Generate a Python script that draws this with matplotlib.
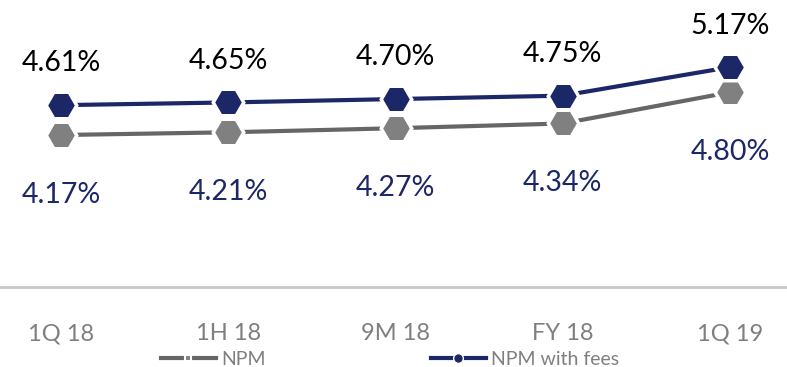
import matplotlib.pyplot as plt
from matplotlib.lines import Line2D

periods = ["1Q 18", "1H 18", "9M 18", "FY 18", "1Q 19"]
npm = [4.17, 4.21, 4.27, 4.34, 4.80]
npm_fees = [4.61, 4.65, 4.70, 4.75, 5.17]

NAVY = "#1c2768"
GREY_LINE = "#666666"
GREY_MARK = "#808080"

plt.rcParams['font.family'] = ['Lato', 'DejaVu Sans']

fig = plt.figure(figsize=(7.87, 3.67), dpi=100)
ax = fig.add_axes([0, 0.218, 1, 0.782])

x = list(range(len(periods)))
ax.plot(x, npm, color=GREY_LINE, lw=3, marker='H', ms=22,
        mfc=GREY_MARK, mec='white', mew=2.5, zorder=3)
ax.plot(x, npm_fees, color=NAVY, lw=3, marker='H', ms=22,
        mfc=NAVY, mec='white', mew=2.5, zorder=4)

for xi, v in zip(x, npm_fees):
    ax.annotate(f"{v:.2f}%", (xi, v), xytext=(0, 30), textcoords='offset points',
                ha='center', va='center', fontsize=20.5, color='black')
for xi, v in zip(x, npm):
    ax.annotate(f"{v:.2f}%", (xi, v), xytext=(0, -43), textcoords='offset points',
                ha='center', va='center', fontsize=20.5, color=NAVY)

ax.set_xlim(-0.365, 4.341)
ax.set_ylim(1.93, 6.16)
for s in ['top', 'left', 'right']:
    ax.spines[s].set_visible(False)
ax.spines['bottom'].set_color('#c8c8c8')
ax.spines['bottom'].set_linewidth(2)
ax.set_yticks([])
ax.set_xticks(x)
ax.set_xticklabels(periods, fontsize=17, color='#7f7f7f')
ax.tick_params(axis='x', length=0, pad=26)

handles = [
    Line2D([], [], color=GREY_LINE, lw=3, marker='s', ms=4, mfc=GREY_MARK,
           mec='white', mew=1.5),
    Line2D([], [], color=NAVY, lw=3, marker='o', ms=7, mfc=NAVY,
           mec='white', mew=1),
]
fig.legend(handles, ["NPM", "NPM with fees"], loc='center', ncol=2,
           bbox_to_anchor=(0.496, 0.02), frameon=False, fontsize=14,
           labelcolor='#7f7f7f', columnspacing=8.5, handlelength=2.8,
           handletextpad=0.3, borderpad=0)

fig.savefig("out.png", dpi=100)
